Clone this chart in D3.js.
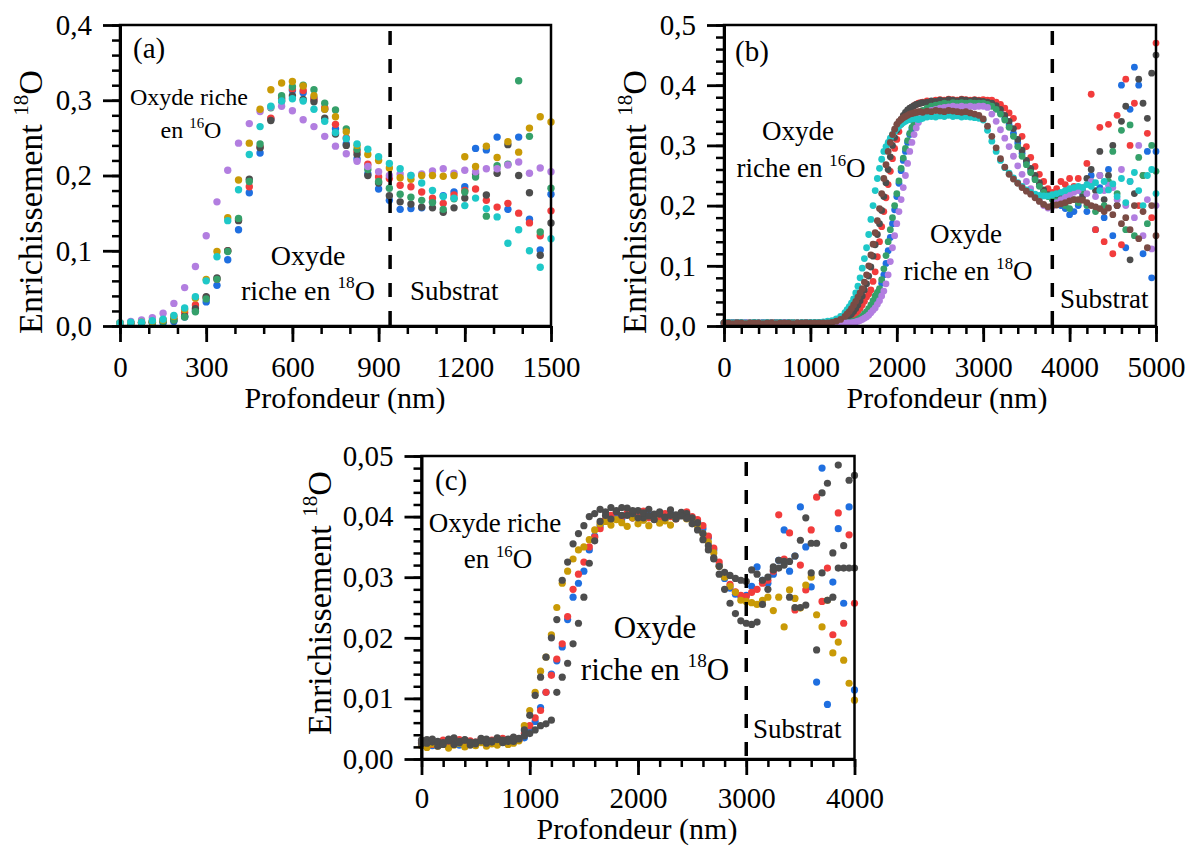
<!DOCTYPE html>
<html><head><meta charset="utf-8">
<script src="https://cdn.jsdelivr.net/npm/d3@7"></script>
<style>
body{margin:0;background:#fff}
svg{display:block}
text{font-family:"Liberation Serif","LiberationSerif","Tinos","Times New Roman","Times","Nimbus Roman","FreeSerif","DejaVu Serif",serif;fill:#000}
</style></head>
<body><svg id="chart" width="1190" height="846"></svg>
<script>
// ---------------- DATA ----------------
// Panel (a)
const xA = [0,37.5,75,112.5,150,187.5,225,262.5,300,337.5,375,412.5,450,487.5,525,562.5,600,637.5,675,712.5,750,787.5,825,862.5,900,937.5,975,1012.5,1050,1087.5,1125,1162.5,1200,1237.5,1275,1312.5,1350,1387.5,1425,1462.5,1500];
const aBlue   = [.004,.004,.004,.004,.004,.006,.012,.02,.032,.054,.088,.128,.177,.23,.275,.303,.313,.31,.303,.288,.262,.242,.222,.202,.182,.167,.155,.156,.157,.165,.173,.178,.185,.236,.234,.251,.155,.251,.142,.101,.175];
const aRed    = [.004,.004,.005,.006,.008,.011,.018,.028,.038,.062,.1,.141,.185,.238,.276,.302,.315,.313,.301,.29,.268,.25,.232,.215,.198,.196,.187,.185,.178,.17,.163,.174,.18,.182,.167,.158,.163,.15,.137,.12,.153];
const aGrey   = [.004,.004,.004,.005,.006,.008,.013,.023,.039,.064,.1,.14,.195,.237,.273,.299,.306,.301,.298,.276,.255,.24,.228,.2,.19,.173,.165,.162,.158,.157,.151,.157,.17,.202,.174,.203,.241,.2,.177,.094,.137];
const aGreen  = [.004,.004,.004,.005,.006,.008,.012,.019,.036,.062,.099,.143,.192,.242,.29,.306,.318,.32,.314,.296,.287,.262,.235,.208,.192,.183,.175,.171,.167,.164,.155,.169,.178,.198,.146,.213,.215,.326,.252,.125,.183];
const aPurple = [.004,.006,.008,.011,.017,.03,.051,.079,.12,.165,.207,.243,.269,.285,.291,.292,.286,.274,.265,.252,.239,.229,.219,.212,.205,.2,.202,.2,.202,.206,.209,.203,.207,.205,.209,.209,.214,.218,.203,.21,.205];
const aGold   = [.004,.004,.005,.006,.008,.013,.022,.037,.062,.099,.144,.194,.243,.288,.314,.323,.325,.319,.306,.288,.278,.258,.24,.228,.22,.21,.197,.195,.2,.2,.199,.2,.225,.212,.239,.224,.245,.231,.263,.278,.271];
const aCyan   = [.004,.005,.005,.007,.009,.014,.024,.039,.06,.092,.14,.181,.228,.265,.292,.299,.302,.299,.288,.272,.257,.249,.242,.235,.225,.216,.209,.2,.19,.18,.172,.17,.16,.17,.156,.145,.11,.128,.1,.078,.116];

// Panel (b) – main grid (every 50 nm)
const xB = [0,50,100,150,200,250,300,350,400,450,500,550,600,650,700,750,800,850,900,950,1000,1050,1100,1150,1200,1250,1300,1350,1400,1450,1500,1550,1600,1650,1700,1750,1800,1850,1900,1950,2000,2050,2100,2150,2200,2250,2300,2350,2400,2450,2500,2550,2600,2650,2700,2750,2800,2850,2900,2950,3000,3050,3100,3150,3200,3250,3300,3350,3400,3450,3500,3550,3600,3650,3700,3750,3800,3850,3900,3950,4000,4050,4100,4150,4200,4250,4300,4350,4400,4450,4500,4550,4600,4650,4700,4750,4800,4850,4900,4950,5000];
const bBlue = [.005,.005,.006,.005,.005,.005,.004,.005,.005,.006,.005,.005,.005,.005,.006,.005,.005,.005,.004,.005,.005,.005,.005,.005,
 .005,.004,.005,.005,.005,
 .005,.006,.009,.013,.02,.03,.044,.06,.085,.125,
 .17,.215,.258,.29,.318,.335,.348,.356,.36,.364,
 .367,.369,.37,.372,.371,.373,.372,.373,.372,.373,
 .372,.371,.37,.367,.362,.355,.345,.334,.32,.304,
 .287,.272,.258,.246,.235,.225,.217,.212,.205,.2,
 .195,.185,.19,.2,.22,.19,.25,.16,.23,.18,
 .26,.15,.2,.4,.13,.36,.43,.4,.12,.29,
 .08,.29];
const bRed = [.005,.006,.005,.005,.005,.006,.005,.005,.004,.005,.005,.006,.005,.005,.005,.005,.006,.005,.005,.005,.004,.005,.005,.005,
 .005,.005,.005,.006,.008,
 .011,.016,.024,.035,.048,.06,.09,.14,.19,.235,
 .278,.31,.335,.35,.36,.366,.37,.372,.374,.373,
 .375,.376,.375,.377,.376,.375,.377,.376,.375,.376,
 .375,.376,.375,.375,.372,.368,.362,.354,.345,.332,
 .315,.298,.28,.265,.252,.24,.228,.222,.228,.24,
 .235,.245,.232,.245,.23,.27,.385,.16,.33,.14,
 .335,.12,.35,.135,.41,.3,.37,.2,.25,.32,
 .18,.47];
const bGrey = [.005,.005,.005,.006,.005,.005,.005,.005,.005,.004,.005,.005,.006,.005,.005,.005,.005,.005,.005,.006,.005,.005,.005,.005,
 .005,.005,.006,.008,.011,
 .016,.024,.035,.05,.07,.098,.135,.17,.215,.26,
 .3,.325,.343,.355,.362,.366,.369,.371,.372,.374,
 .373,.375,.374,.376,.375,.374,.376,.375,.374,.375,
 .374,.373,.372,.37,.366,.36,.35,.34,.328,.31,
 .292,.275,.262,.25,.238,.226,.218,.212,.21,.213,
 .216,.22,.225,.23,.215,.245,.26,.225,.29,.21,
 .25,.3,.2,.34,.365,.11,.22,.41,.37,.345,
 .42,.45];
const bGreen = [.005,.005,.005,.005,.004,.005,.005,.006,.005,.005,.005,.005,.005,.004,.005,.005,.006,.005,.005,.005,.005,.005,.006,.005,
 .005,.005,.005,.005,.005,
 .006,.008,.011,.016,.024,.035,.05,.062,.095,.14,
 .18,.22,.262,.295,.32,.338,.35,.358,.362,.365,
 .367,.368,.37,.369,.371,.37,.371,.37,.371,.37,
 .37,.37,.368,.365,.36,.352,.342,.33,.315,.298,
 .282,.268,.255,.243,.232,.222,.215,.21,.208,.205,
 .2,.195,.21,.205,.225,.2,.24,.19,.25,.2,
 .24,.29,.22,.325,.16,.334,.15,.28,.25,.17,
 .3,.257];
const bPurple = [.004,.005,.005,.005,.005,.006,.005,.005,.005,.005,.004,.005,.005,.005,.006,.005,.005,.005,.005,.005,.005,.004,.005,.005,
 .005,.005,.005,.005,.005,
 .005,.006,.008,.011,.015,.022,.03,.042,.058,.085,
 .13,.17,.21,.25,.29,.318,.338,.35,.355,.358,
 .36,.362,.363,.364,.365,.364,.365,.364,.365,.364,
 .365,.365,.363,.352,.34,.326,.312,.298,.282,.266,
 .252,.24,.228,.218,.208,.2,.196,.198,.205,.21,
 .215,.218,.222,.225,.23,.22,.24,.215,.25,.225,
 .234,.23,.21,.26,.2,.24,.18,.3,.15,.21,
 .128,.2];
const bCyan = [.005,.006,.005,.005,.006,.005,.005,.006,.005,.005,.006,.005,.005,.006,.005,.006,.005,.005,.006,.005,.006,.006,.006,.007,
 .008,.009,.012,.016,.022,
 .032,.045,.066,.096,.13,.177,.225,.262,.29,.305,
 .318,.328,.335,.34,.343,.345,.343,.345,.347,.348,
 .347,.349,.348,.35,.348,.349,.347,.348,.347,.346,
 .345,.342,.325,.307,.29,.275,.263,.254,.246,.238,
 .232,.226,.222,.219,.217,.216,.216,.218,.22,.222,
 .225,.228,.23,.232,.23,.235,.232,.238,.225,.24,
 .226,.236,.215,.245,.205,.24,.255,.225,.2,.25,
 .26,.22];
const bBrown = [.005,.005,.004,.005,.005,.004,.005,.005,.005,.004,.005,.005,.004,.005,.005,.005,.004,.005,.005,.005,.005,.005,.005,.005,
 .005,.006,.008,.011,.016,
 .024,.035,.048,.062,.085,.118,.155,.195,.245,.29,
 .318,.335,.343,.348,.352,.354,.356,.355,.357,.356,
 .358,.357,.356,.358,.357,.356,.355,.356,.354,.352,
 .35,.344,.332,.315,.296,.278,.264,.252,.244,.237,
 .23,.224,.219,.213,.207,.202,.198,.2,.201,.203,
 .205,.208,.21,.21,.209,.205,.2,.198,.195,.19,
 .196,.185,.2,.17,.18,.16,.2,.145,.19,.13,
 .2,.15];

// Panel (b) – extra readings in the steep rise (midway between the 50 nm points)
const xBRise = [1425,1475,1525,1575,1625,1675,1725,1775,1825,1875,1925,1975,2025,2075,2125,2175,2225,2275];
const bBlueRise   = [.005,.005,.007,.011,.016,.025,.036,.051,.071,.104,.147,.193,.237,.275,.305,.327,.342,.352];
const bRedRise    = [.009,.013,.02,.029,.041,.053,.074,.115,.165,.213,.257,.295,.323,.343,.355,.363,.368,.371];
const bGreyRise   = [.013,.02,.029,.042,.06,.083,.116,.152,.192,.238,.281,.313,.335,.35,.359,.364,.368,.37];
const bGreenRise  = [.005,.007,.009,.013,.02,.029,.042,.056,.077,.117,.16,.2,.241,.279,.308,.33,.344,.354];
const bPurpleRise = [.005,.005,.007,.009,.013,.018,.026,.036,.05,.07,.107,.15,.19,.23,.27,.305,.329,.345];
const bCyanRise   = [.027,.038,.055,.08,.112,.152,.2,.245,.277,.298,.312,.323,.332,.338,.342,.344,.344,.344];
const bBrownRise  = [.02,.029,.041,.055,.073,.1,.136,.175,.22,.268,.305,.327,.34,.346,.35,.353,.355,.356];

// Panel (c)
const xC = [0,50,100,150,200,250,300,350,400,450,500,550,600,650,700,750,800,850,900,950,1000,1050,1100,1150,1200,1250,1300,1350,1400,1450,1500,1550,1600,1650,1700,1750,1800,1850,1900,1950,2000,2050,2100,2150,2200,2250,2300,2350,2400,2450,2500,2550,2600,2650,2700,2750,2800,2850,2900,2950,3000,3050,3100,3150,3200,3250,3300,3350,3400,3450,3500,3550,3600,3650,3700,3750,3800,3850,3900,3950,4000];
const cBlue = [.0028,.0025,.0022,.0027,.0024,.0029,.0026,.0023,.003,.0027,.0025,.0029,.0031,.0026,.0028,.0033,.003,.0028,.0032,
 .0035,.0045,.0062,.0085,.011,.014,.0162,.0185,.023,.0267,
 .029,.031,.0345,.0368,.0385,.0392,.0398,.0402,.0396,.0405,
 .0398,.0401,.0395,.0404,.0399,.0402,.0396,.0405,.0398,.0403,
 .04,.0398,.0392,.038,.0365,.0345,.032,.0298,.0282,.0272,
 .0268,.027,.0285,.0317,.0295,.029,.0305,.0328,.0378,.031,
 .0335,.0416,.035,.0284,.0127,.048,.009,.0292,.038,.0257,
 .0416,.0114];
const cRed = [.0027,.003,.0024,.0026,.0031,.0025,.0028,.0032,.0026,.003,.0028,.0033,.0027,.0031,.0029,.0034,.003,.0035,.0031,
 .0042,.0055,.0068,.008,.011,.0138,.0165,.019,.0235,.028,
 .0305,.0325,.035,.0366,.038,.0395,.0402,.0408,.04,.0406,
 .0398,.0404,.0409,.0398,.0403,.0395,.0405,.04,.0396,.0406,
 .0408,.04,.0395,.0385,.0368,.0348,.0325,.0302,.0288,.0276,
 .027,.0268,.0275,.028,.029,.0295,.031,.0403,.033,.0373,
 .0246,.032,.0279,.0378,.0432,.026,.0315,.0205,.0406,.0224,
 .037,.0257];
const cGold = [.0022,.0019,.0025,.0021,.0024,.0018,.0023,.0026,.002,.0024,.0022,.0027,.0021,.0025,.0023,.0028,.0024,.0026,.003,
 .0055,.008,.011,.0145,.0168,.0205,.025,.029,.031,.033,
 .0345,.035,.0362,.0378,.0388,.0392,.0386,.0395,.039,.0384,
 .0398,.0388,.0394,.0385,.0396,.0389,.0393,.0386,.0397,.0402,
 .0396,.0395,.0385,.0372,.0358,.034,.0318,.03,.0285,.0275,
 .0262,.026,.0258,.0255,.0262,.0267,.0245,.0267,.0218,.0279,
 .0265,.0249,.0287,.03,.0238,.0218,.0262,.0175,.0193,.0163,
 .0125,.0097];
const cGreyA = [.0025,.0032,.0028,.0021,.0027,.0033,.0024,.0029,.0031,.0023,.0028,.0034,.0026,.003,.0032,.0027,.0033,.0029,.0034,
 .0048,.0072,.0105,.0135,.0168,.02,.023,.0295,.0325,.0355,
 .0372,.0385,.04,.0405,.0412,.0408,.0415,.041,.0402,.0414,
 .0405,.041,.0398,.0412,.0404,.0408,.0399,.0411,.0403,.0407,
 .0405,.0398,.039,.0372,.0352,.033,.0305,.028,.0257,.024,
 .0228,.0224,.0222,.0226,.0255,.028,.0317,.0328,.0326,.0267,
 .025,.0361,.0398,.0356,.018,.0439,.0455,.034,.0485,.0315,
 .046,.0315];
const cGreyB = [.0031,.0026,.0033,.0029,.0024,.003,.0035,.0027,.0032,.0028,.0025,.003,.0033,.0028,.0035,.0031,.0029,.0036,.0033,
 .0038,.0042,.0048,.0055,.0058,.0064,.011,.0135,.0158,.019,
 .0224,.0267,.0323,.036,.0392,.0402,.0396,.0408,.0415,.0402,
 .041,.0398,.0406,.0401,.0395,.0404,.0398,.0402,.0396,.0401,
 .0397,.0388,.0378,.0362,.0345,.0332,.0318,.0308,.0303,.0298,
 .0295,.0293,.0312,.0305,.0295,.03,.0312,.0315,.032,.0326,
 .0335,.025,.0254,.0307,.0356,.0307,.0262,.0267,.0315,.0352,
 .0315,.0468];

// Tick labels
const aXTicks = [0,300,600,900,1200,1500];
const aXLabels = ["0","300","600","900","1200","1500"];
const aYTicks = [0,0.1,0.2,0.3,0.4];
const aYLabels = ["0,0","0,1","0,2","0,3","0,4"];
const bXTicks = [0,1000,2000,3000,4000,5000];
const bXLabels = ["0","1000","2000","3000","4000","5000"];
const bYTicks = [0,0.1,0.2,0.3,0.4,0.5];
const bYLabels = ["0,0","0,1","0,2","0,3","0,4","0,5"];
const cXTicks = [0,1000,2000,3000,4000];
const cXLabels = ["0","1000","2000","3000","4000"];
const cYTicks = [0,0.01,0.02,0.03,0.04,0.05];
const cYLabels = ["0,00","0,01","0,02","0,03","0,04","0,05"];

const COL = {blue:"#1f6fe0", red:"#f23c3c", grey:"#4d4d4d", green:"#35a06a", purple:"#b27ee0", gold:"#c99a06", cyan:"#1ec8c8", brown:"#7a4b44"};

// ---------------- DRAW ----------------
const FONT = '"Liberation Serif","LiberationSerif","Tinos","Times New Roman","Times","Nimbus Roman","FreeSerif","DejaVu Serif",serif';
const svg = d3.select("#chart");

function richText(g, x, y, segs, size, anchor){
  const t = g.append("text").attr("x", x).attr("y", y).attr("font-size", size)
    .attr("font-family", FONT).attr("text-anchor", anchor||"start");
  let raised = false;
  segs.forEach(s=>{
    const sp = t.append("tspan").text(s.t);
    if (s.sup){ sp.attr("font-size", size*0.62).attr("dy", -size*0.42); raised = true; }
    else if (raised){ sp.attr("dy", size*0.42); raised = false; }
  });
  return t;
}

function panel(cfg){
  const x = d3.scaleLinear().domain(cfg.xDomain).range([cfg.L, cfg.R]);
  const y = d3.scaleLinear().domain(cfg.yDomain).range([cfg.B, cfg.T]);
  const g = svg.append("g");

  cfg.series.forEach(s=>{
    const pts = [];
    s.parts.forEach(p=> p.v.forEach((v,i)=> pts.push({x:p.xs[i], y:v})));
    g.append("g").selectAll("circle").data(pts).join("circle")
      .attr("cx", d=>x(d.x)).attr("cy", d=>y(d.y)).attr("r", cfg.r)
      .attr("fill", s.c);
  });

  // dashed separator
  g.append("line").attr("x1", x(cfg.dash)).attr("x2", x(cfg.dash))
    .attr("y1", cfg.T+6).attr("y2", cfg.B)
    .attr("stroke","#000").attr("stroke-width",3.5).attr("stroke-dasharray","14,14");

  // frame
  g.append("rect").attr("x", cfg.L).attr("y", cfg.T).attr("width", cfg.R-cfg.L).attr("height", cfg.B-cfg.T)
    .attr("fill","none").attr("stroke","#000").attr("stroke-width",2.5);

  // minor ticks
  const xMinor = d3.range(cfg.xDomain[0], cfg.xDomain[1]+1e-9, cfg.xMinorStep);
  const yMinor = d3.range(0, cfg.yDomain[1]+1e-12, cfg.yMinorStep);
  const axMinX = g.append("g").attr("transform",`translate(0,${cfg.B})`)
    .call(d3.axisBottom(x).tickValues(xMinor).tickSize(8).tickSizeOuter(0).tickFormat(""));
  const axMinY = g.append("g").attr("transform",`translate(${cfg.L},0)`)
    .call(d3.axisLeft(y).tickValues(yMinor).tickSize(8).tickSizeOuter(0).tickFormat(""));
  [axMinX, axMinY].forEach(a=>{a.select(".domain").remove(); a.selectAll("line").attr("stroke","#000").attr("stroke-width",2.5);});

  // major ticks
  const axX = g.append("g").attr("transform",`translate(0,${cfg.B})`)
    .call(d3.axisBottom(x).tickValues(cfg.xTicks).tickSize(16).tickSizeOuter(0).tickPadding(cfg.xPad)
      .tickFormat((d,i)=>cfg.xLabels[i]));
  const axY = g.append("g").attr("transform",`translate(${cfg.L},0)`)
    .call(d3.axisLeft(y).tickValues(cfg.yTicks).tickSize(17).tickSizeOuter(0).tickPadding(11)
      .tickFormat((d,i)=>cfg.yLabels[i]));
  [axX, axY].forEach(a=>{
    a.attr("font-family", FONT);
    a.select(".domain").attr("stroke","#000").attr("stroke-width",3);
    a.selectAll(".tick line").attr("stroke","#000").attr("stroke-width",2.8);
    a.selectAll("text").attr("font-size",29).attr("font-family",FONT).attr("fill","#000");
  });

  // axis titles
  g.append("text").attr("x", cfg.xTitleX).attr("y", cfg.xTitleY).attr("text-anchor","middle")
    .attr("font-family", FONT).attr("font-size",30).text("Profondeur (nm)");
  const yt = g.append("g").attr("transform",`translate(${cfg.yTitleX},${cfg.yTitleY}) rotate(-90)`);
  richText(yt, 0, 0, [{t:"Enrichissement "},{t:"18",sup:true},{t:"O"}], 34, "middle");

  // annotations
  cfg.notes.forEach(n=> richText(g, n.x, n.y, n.segs, n.size, n.anchor));
}

panel({
  L:120, R:551, T:25, B:326, xDomain:[0,1500], yDomain:[0,0.4], r:3.7,
  series:[
    {c:COL.blue,   parts:[{xs:xA, v:aBlue}]},
    {c:COL.red,    parts:[{xs:xA, v:aRed}]},
    {c:COL.grey,   parts:[{xs:xA, v:aGrey}]},
    {c:COL.green,  parts:[{xs:xA, v:aGreen}]},
    {c:COL.purple, parts:[{xs:xA, v:aPurple}]},
    {c:COL.gold,   parts:[{xs:xA, v:aGold}]},
    {c:COL.cyan,   parts:[{xs:xA, v:aCyan}]}],
  dash:940, xMinorStep:100, yMinorStep:0.02,
  xTicks:aXTicks, xLabels:aXLabels, yTicks:aYTicks, yLabels:aYLabels, xPad:14,
  xTitleX:345, xTitleY:408, yTitleX:42, yTitleY:202,
  notes:[
    {x:133,y:58,size:29,segs:[{t:"(a)"}]},
    {x:189,y:105,size:24,anchor:"middle",segs:[{t:"Oxyde riche"}]},
    {x:191,y:138,size:24,anchor:"middle",segs:[{t:"en "},{t:"16",sup:true},{t:"O"}]},
    {x:308,y:265,size:28,anchor:"middle",segs:[{t:"Oxyde"}]},
    {x:308,y:300,size:28,anchor:"middle",segs:[{t:"riche en "},{t:"18",sup:true},{t:"O"}]},
    {x:410,y:300,size:27,segs:[{t:"Substrat"}]}
  ]
});

panel({
  L:724, R:1156, T:25, B:326, xDomain:[0,5000], yDomain:[0,0.5], r:3.4,
  series:[
    {c:COL.blue,   parts:[{xs:xB, v:bBlue},  {xs:xBRise, v:bBlueRise}]},
    {c:COL.red,    parts:[{xs:xB, v:bRed},   {xs:xBRise, v:bRedRise}]},
    {c:COL.grey,   parts:[{xs:xB, v:bGrey},  {xs:xBRise, v:bGreyRise}]},
    {c:COL.green,  parts:[{xs:xB, v:bGreen}, {xs:xBRise, v:bGreenRise}]},
    {c:COL.purple, parts:[{xs:xB, v:bPurple},{xs:xBRise, v:bPurpleRise}]},
    {c:COL.cyan,   parts:[{xs:xB, v:bCyan},  {xs:xBRise, v:bCyanRise}]},
    {c:COL.brown,  parts:[{xs:xB, v:bBrown}, {xs:xBRise, v:bBrownRise}]}],
  dash:3800, xMinorStep:200, yMinorStep:0.02,
  xTicks:bXTicks, xLabels:bXLabels, yTicks:bYTicks, yLabels:bYLabels, xPad:14,
  xTitleX:947, xTitleY:408, yTitleX:646, yTitleY:202,
  notes:[
    {x:735,y:61,size:29,segs:[{t:"(b)"}]},
    {x:798,y:140,size:27,anchor:"middle",segs:[{t:"Oxyde"}]},
    {x:801,y:177,size:27,anchor:"middle",segs:[{t:"riche en "},{t:"16",sup:true},{t:"O"}]},
    {x:966,y:243,size:27,anchor:"middle",segs:[{t:"Oxyde"}]},
    {x:968,y:280,size:27,anchor:"middle",segs:[{t:"riche en "},{t:"18",sup:true},{t:"O"}]},
    {x:1060,y:308,size:27,segs:[{t:"Substrat"}]}
  ]
});

panel({
  L:421.5, R:854.5, T:456, B:759, xDomain:[0,4000], yDomain:[0,0.05], r:3.6,
  series:[
    {c:COL.blue, parts:[{xs:xC, v:cBlue}]},
    {c:COL.red,  parts:[{xs:xC, v:cRed}]},
    {c:COL.gold, parts:[{xs:xC, v:cGold}]},
    {c:COL.grey, parts:[{xs:xC, v:cGreyA}]},
    {c:COL.grey, parts:[{xs:xC, v:cGreyB}]}],
  dash:3000, xMinorStep:200, yMinorStep:0.002,
  xTicks:cXTicks, xLabels:cXLabels, yTicks:cYTicks, yLabels:cYLabels, xPad:12,
  xTitleX:637, xTitleY:839, yTitleX:331, yTitleY:603,
  notes:[
    {x:435,y:490,size:29,segs:[{t:"(c)"}]},
    {x:495,y:532,size:27,anchor:"middle",segs:[{t:"Oxyde riche"}]},
    {x:498,y:568,size:27,anchor:"middle",segs:[{t:"en "},{t:"16",sup:true},{t:"O"}]},
    {x:655,y:638,size:31,anchor:"middle",segs:[{t:"Oxyde"}]},
    {x:655,y:680,size:31,anchor:"middle",segs:[{t:"riche en "},{t:"18",sup:true},{t:"O"}]},
    {x:753,y:738,size:27,segs:[{t:"Substrat"}]}
  ]
});
</script></body></html>
